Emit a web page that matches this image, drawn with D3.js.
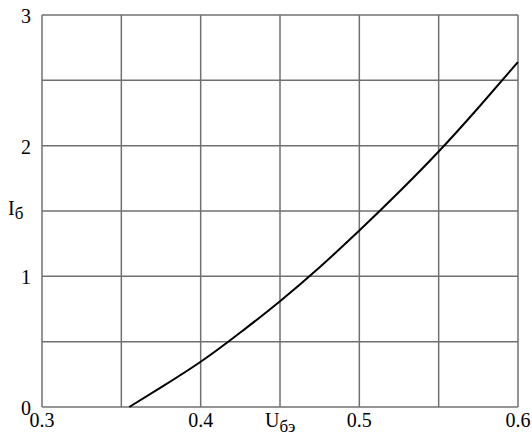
<!DOCTYPE html>
<html>
<meta charset="utf-8">
<script src="https://d3js.org/d3.v7.min.js"></script>
<style>
  body { margin: 0; background: #fff; }
  svg text { font-family: "Liberation Serif", "Times New Roman", Times, serif; fill: #000; }
</style>
<body>
<div id="chart"></div>
<script>

    // curve: base current vs base-emitter voltage
    var uBE = [0.355, 0.375, 0.4, 0.425, 0.45, 0.475, 0.5, 0.525, 0.55, 0.575, 0.6];
    var iB  = [0, 0.15, 0.346, 0.57, 0.81, 1.07, 1.35, 1.645, 1.955, 2.29, 2.64];

    var xTicks = [0.3, 0.4, 0.5, 0.6];
    var xGrid = [0.3, 0.35, 0.4, 0.45, 0.5, 0.55, 0.6];
    var yTicks = [0, 1, 2, 3];
    var yGrid = [0, 0.5, 1, 1.5, 2, 2.5, 3];

    var margin = {top: 15, right: 14, bottom: 29, left: 42},
        width = 532 - margin.left - margin.right,
        height = 436 - margin.top - margin.bottom;

    var svg = d3.select("#chart")
      .append("svg")
        .attr("width", 532)
        .attr("height", 436)
      .append("g")
        .attr("transform", "translate(" + margin.left + "," + margin.top + ")");

    var x = d3.scaleLinear().domain([0.3, 0.6]).range([0, width]);
    var y = d3.scaleLinear().domain([0, 3]).range([height, 0]);

    // grid
    svg.selectAll(".vgrid")
      .data(xGrid)
      .enter()
      .append("line")
        .attr("x1", function(d) { return x(d); })
        .attr("x2", function(d) { return x(d); })
        .attr("y1", 0)
        .attr("y2", height)
        .attr("stroke", "#707070")
        .attr("stroke-width", 1.5);

    svg.selectAll(".hgrid")
      .data(yGrid)
      .enter()
      .append("line")
        .attr("x1", 0)
        .attr("x2", width)
        .attr("y1", function(d) { return y(d); })
        .attr("y2", function(d) { return y(d); })
        .attr("stroke", "#707070")
        .attr("stroke-width", 1.5);

    // tick labels
    svg.selectAll(".xlab")
      .data(xTicks)
      .enter()
      .append("text")
        .attr("x", function(d) { return x(d); })
        .attr("y", height + 20)
        .attr("text-anchor", "middle")
        .style("font-size", "20px")
        .text(function(d) { return d3.format(".1f")(d); });

    svg.selectAll(".ylab")
      .data(yTicks)
      .enter()
      .append("text")
        .attr("x", -11)
        .attr("y", function(d) { return y(d) + 8; })
        .attr("text-anchor", "end")
        .style("font-size", "20px")
        .text(function(d) { return d; });

    // axis titles
    var xt = svg.append("text")
        .attr("x", x(0.45) - 15)
        .attr("y", height + 20)
        .style("font-size", "20px");
    xt.append("tspan").text("U");
    xt.append("tspan").attr("dy", 5).style("font-size", "17px").text("бэ");

    var yt = svg.append("text")
        .attr("x", -34)
        .attr("y", y(1.5) + 4)
        .style("font-size", "20px");
    yt.append("tspan").text("I");
    yt.append("tspan").attr("dy", 4).style("font-size", "17px").text("б");

    // curve
    var pts = uBE.map(function(u, k) { return [u, iB[k]]; });
    svg.append("path")
      .datum(pts)
      .attr("fill", "none")
      .attr("stroke", "#000")
      .attr("stroke-width", 2)
      .attr("d", d3.line()
        .x(function(d) { return x(d[0]); })
        .y(function(d) { return y(d[1]); })
        .curve(d3.curveNatural));

</script>
</body>
</html>
